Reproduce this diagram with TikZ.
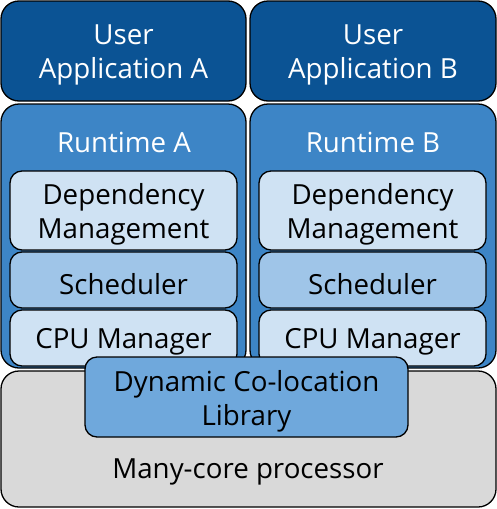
\documentclass[tikz,border=0pt]{standalone}
\usepackage{fontspec}
\setmainfont{Open Sans}
\definecolor{dkblue}{HTML}{0B5394}
\definecolor{midblue}{HTML}{3D85C6}
\definecolor{lblue}{HTML}{6FA8DC}
\definecolor{lblueb}{HTML}{9FC5E8}
\definecolor{lbluec}{HTML}{CFE2F3}
\definecolor{lgray}{HTML}{D9D9D9}
\tikzset{
  box/.style={draw=black, line width=1.3pt, rounded corners=#1, inner sep=0pt, outer sep=0pt},
  lbl/.style={font=\fontsize{27.7}{34}\selectfont, align=center, inner sep=0pt, yshift=-4pt},
}
\newcommand{\rbox}[6]{% name, x1,y1,x2,y2, style
  \path[#6] (#2,#3) rectangle (#4,#5);
  \coordinate (#1) at ({(#2+#4)/2},{(#3+#5)/2});
}
\begin{document}
\begin{tikzpicture}[x=1pt,y=-1pt]
\useasboundingbox (0,0) rectangle (497,509);
% user apps
\rbox{uaA}{1}{1}{246}{101}{box=18pt, fill=dkblue}
\rbox{uaB}{250}{1}{496}{101}{box=18pt, fill=dkblue}
\node[lbl, text=white] (tuaA) at (uaA) {User\\Application A};
\node[lbl, text=white] (tuaB) at (uaB) {User\\Application B};
% runtimes
\rbox{rtA}{1}{104}{246}{368}{box=18pt, fill=midblue}
\rbox{rtB}{250}{104}{496}{368}{box=18pt, fill=midblue}
\node[lbl, text=white] (trtA) at (124,138) {Runtime A};
\node[lbl, text=white] (trtB) at (373,138) {Runtime B};
% inner A
\rbox{dmA}{10}{171}{237}{250}{box=12pt, fill=lbluec}
\rbox{scA}{10}{252}{237}{308}{box=12pt, fill=lblueb}
\rbox{cpA}{10}{310}{237}{366}{box=12pt, fill=lbluec}
\node[lbl] (tdmA) at (dmA) {Dependency\\Management};
\node[lbl] (tscA) at (scA) {Scheduler};
\node[lbl] (tcpA) at (cpA) {CPU Manager};
% inner B
\rbox{dmB}{259}{171}{486}{250}{box=12pt, fill=lbluec}
\rbox{scB}{259}{252}{486}{308}{box=12pt, fill=lblueb}
\rbox{cpB}{259}{310}{486}{366}{box=12pt, fill=lbluec}
\node[lbl] (tdmB) at (dmB) {Dependency\\Management};
\node[lbl] (tscB) at (scB) {Scheduler};
\node[lbl] (tcpB) at (cpB) {CPU Manager};
% processor
\rbox{mc}{1}{371}{496}{507}{box=18pt, fill=lgray}
\node[lbl] (tmc) at (248,468) {Many-core processor};
% DCL
\rbox{dcl}{85}{357}{408}{437}{box=12pt, fill=lblue}
\node[lbl] (tdcl) at (dcl) {Dynamic Co-location\\Library};
\end{tikzpicture}
\end{document}
